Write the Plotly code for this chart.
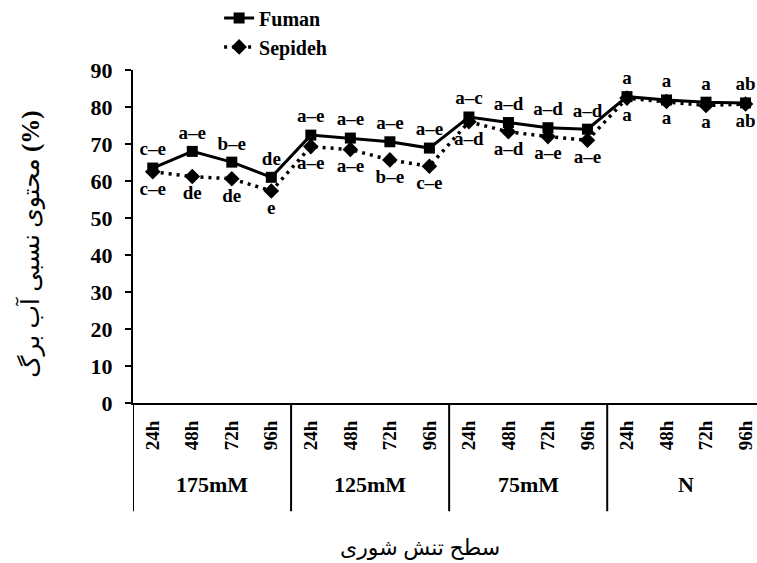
import plotly.graph_objects as go

groups = ["175mM", "125mM", "75mM", "N"]
times = ["24h", "48h", "72h", "96h"]
tick_labels = times * 4

fuman = [63.5, 68.0, 65.1, 61.0, 72.4, 71.6, 70.6, 68.9, 77.3, 75.8, 74.4, 74.0, 82.8, 81.9, 81.3, 81.1]
sepideh = [62.5, 61.2, 60.6, 57.3, 69.3, 68.5, 65.7, 64.0, 76.0, 73.3, 72.0, 71.0, 82.4, 81.5, 80.4, 80.8]

fuman_letters = ["c–e", "a–e", "b–e", "de", "a–e", "a–e", "a–e", "a–e",
                 "a–c", "a–d", "a–d", "a–d", "a", "a", "a", "ab"]
sepideh_letters = ["c–e", "de", "de", "e", "a–e", "a–e", "b–e", "c–e",
                   "a–d", "a–d", "a–e", "a–e", "a", "a", "a", "ab"]

y_title = "محتوی نسبی آب برگ <b>(%)</b>"
x_title = "سطح تنش شوری"

FONT = "Liberation Serif, Times New Roman, DejaVu Serif, DejaVu Sans"
x = list(range(len(tick_labels)))

fig = go.Figure()
fig.add_trace(go.Scatter(
    x=x, y=fuman, name="Fuman", mode="lines+markers+text",
    line=dict(color="black", width=3),
    marker=dict(symbol="square", size=11, color="black"),
    text=fuman_letters, textposition="top center", cliponaxis=False,
    textfont=dict(family=FONT, size=19, color="black", weight="bold"),
))
fig.add_trace(go.Scatter(
    x=x, y=sepideh, name="Sepideh", mode="lines+markers+text",
    line=dict(color="black", width=3.5, dash="3px,5px"),
    marker=dict(symbol="diamond", size=12, color="black"),
    text=sepideh_letters, textposition="bottom center", cliponaxis=False,
    textfont=dict(family=FONT, size=19, color="black", weight="bold"),
))

# group divider lines extending below the axis
for b in [-0.5, 3.5, 7.5, 11.5, 15.5]:
    fig.add_shape(type="line", xref="x", yref="paper", x0=b, x1=b, y0=0, y1=-0.325,
                  line=dict(color="black", width=2))

for i, g in enumerate(groups):
    fig.add_annotation(x=i * 4 + 1.5, y=-0.245, xref="x", yref="paper", text=g,
                       showarrow=False, yanchor="middle", xanchor="center",
                       font=dict(family=FONT, size=22, color="black", weight="bold"))

fig.add_annotation(x=-0.165, y=0.475, xref="paper", yref="paper", text=y_title,
                   textangle=-90, showarrow=False, xanchor="center", yanchor="middle",
                   font=dict(family=FONT, size=25, color="black"))
fig.add_annotation(x=0.46, y=-0.435, xref="paper", yref="paper", text=x_title,
                   showarrow=False, xanchor="center", yanchor="middle",
                   font=dict(family=FONT, size=22, color="black"))

fig.update_layout(
    width=757, height=563,
    margin=dict(l=133, r=0, t=70, b=160, autoexpand=False),
    plot_bgcolor="white", paper_bgcolor="white",
    showlegend=True,
    legend=dict(x=0.138, y=1.215, xanchor="left", yanchor="top",
                bgcolor="rgba(0,0,0,0)", tracegroupgap=0,
                font=dict(family=FONT, size=20, color="black", weight="bold")),
    xaxis=dict(range=[-0.5, 15.29], tickmode="array", tickvals=x, ticktext=tick_labels,
               tickangle=-90, ticks="", showgrid=False, zeroline=False,
               showline=True, linecolor="black", linewidth=2,
               ticklabelstandoff=8,
               tickfont=dict(family=FONT, size=19, color="black", weight="bold")),
    yaxis=dict(range=[0, 90], dtick=10, ticks="outside", ticklen=6, tickwidth=2,
               tickcolor="black", showgrid=False, zeroline=False,
               showline=True, linecolor="black", linewidth=2,
               ticklabelstandoff=8,
               tickfont=dict(family=FONT, size=22, color="black", weight="bold")),
)

fig.write_html(
    "out.html",
    config={"displayModeBar": False},
    post_script="document.body.style.margin='0px';document.body.style.overflow='hidden';",
)
